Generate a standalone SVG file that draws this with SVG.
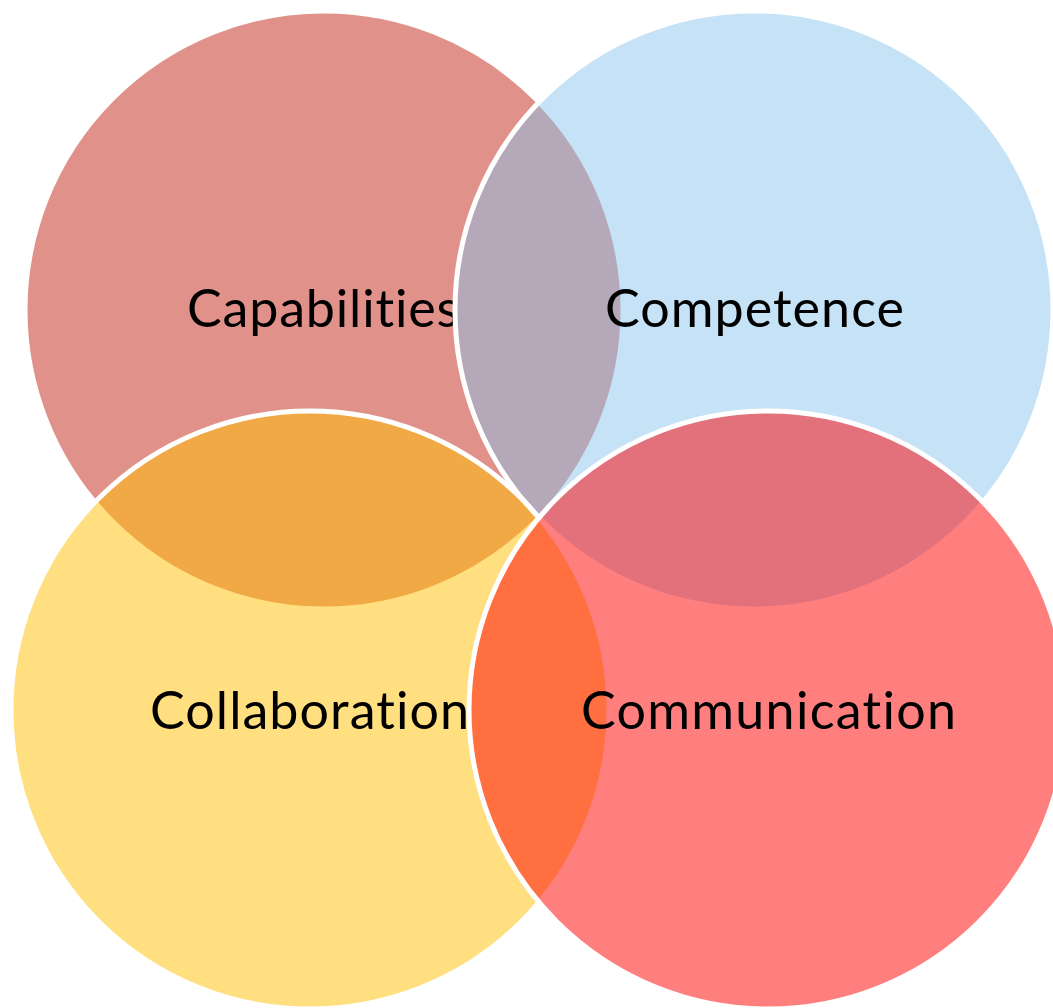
<svg xmlns="http://www.w3.org/2000/svg" width="1053" height="1008" viewBox="0 0 1053 1008">
  <style>
    .c { stroke: #FFFFFF; stroke-width: 5; }
    .t { font-family: Lato, "Open Sans", "Liberation Sans", sans-serif; font-size: 52px; fill: #000000; text-anchor: middle; font-variant-ligatures: none; font-feature-settings: "liga" 0, "clig" 0; }
  </style>
  <rect x="0" y="0" width="1053" height="1008" fill="#FFFFFF"/>
  <g id="capabilities">
    <circle class="c" cx="324" cy="310" r="299" fill="#E0928A"/>
    <text class="t" x="323" y="327" textLength="272">Capabilities</text>
  </g>
  <g id="competence">
    <circle class="c" cx="754" cy="310" r="299" fill="rgb(132,193,236)" fill-opacity="0.47"/>
    <text class="t" x="754.5" y="327" textLength="299">Competence</text>
  </g>
  <g id="collaboration">
    <circle class="c" cx="310" cy="710" r="299" fill="#FFC000" fill-opacity="0.5"/>
    <text class="t" x="309.5" y="729" textLength="319">Collaboration</text>
  </g>
  <g id="communication">
    <circle class="c" cx="768" cy="710" r="299" fill="#FF0000" fill-opacity="0.5"/>
    <text class="t" x="768.5" y="729" textLength="375">Communication</text>
  </g>
</svg>
